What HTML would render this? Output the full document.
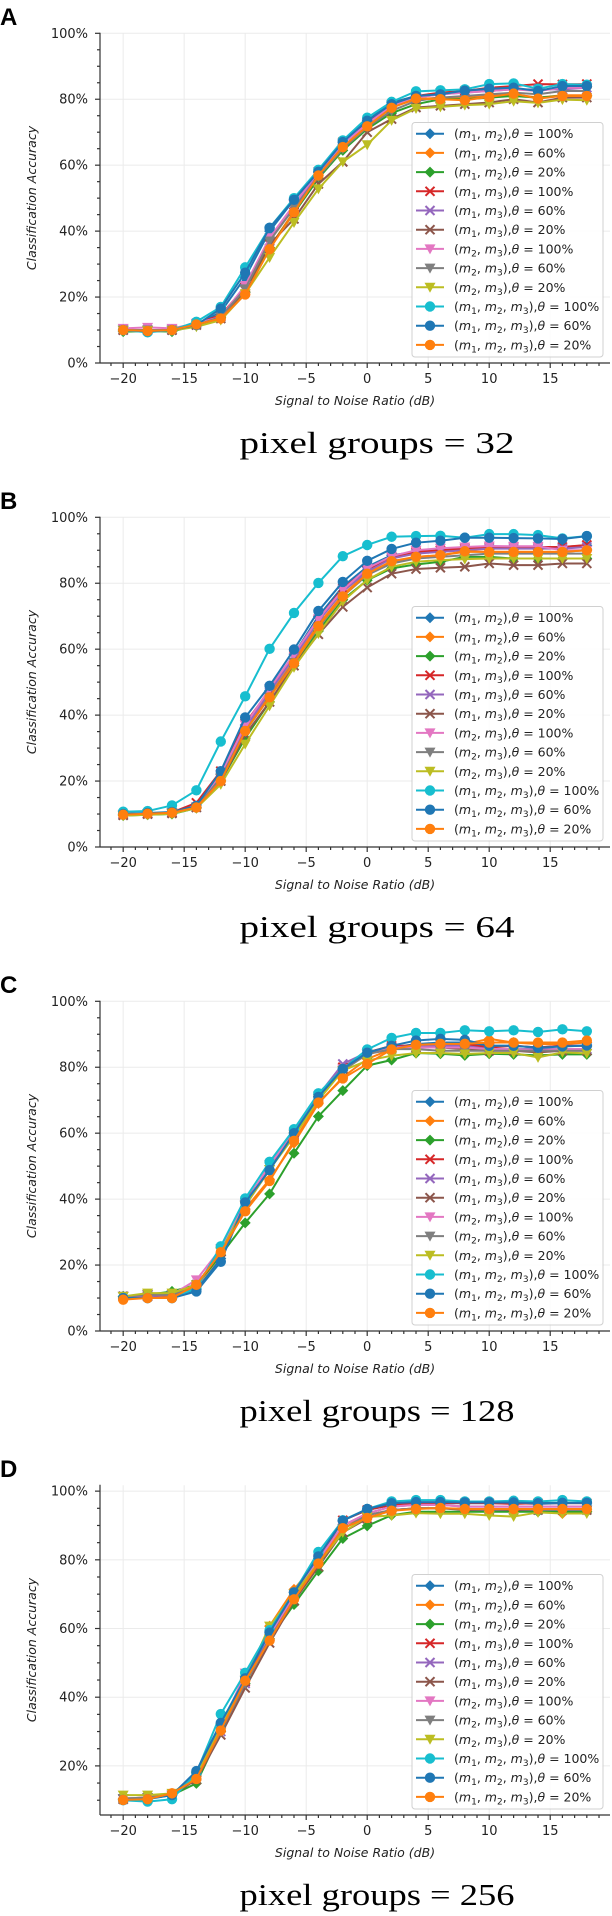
<!DOCTYPE html>
<html><head><meta charset="utf-8">
<style>
html,body{margin:0;padding:0;background:#fff;}
svg{display:block;font-family:"DejaVu Sans","Liberation Sans",sans-serif;}
</style></head>
<body>
<svg id="fig" width="612" height="1916" viewBox="0 0 612 1916" xmlns="http://www.w3.org/2000/svg"></svg>
<script>
const snr = [-20,-18,-16,-14,-12,-10,-8,-6,-4,-2,0,2,4,6,8,10,12,14,16,18];
const xTicks = [-20,-15,-10,-5,0,5,10,15];
const xTickLabels = ["\u221220","\u221215","\u221210","\u22125","0","5","10","15"];
const panelLetters = ["A","B","C","D"];
const panelTitles = ["pixel groups = 32","pixel groups = 64","pixel groups = 128","pixel groups = 256"];
const seriesLabels = [
 ["m1","m2","100%"],["m1","m2","60%"],["m1","m2","20%"],
 ["m1","m3","100%"],["m1","m3","60%"],["m1","m3","20%"],
 ["m2","m3","100%"],["m2","m3","60%"],["m2","m3","20%"],
 ["m1","m2","m3","100%"],["m1","m2","m3","60%"],["m1","m2","m3","20%"]];
// series order: blueD, orangeD, greenD, redX, purpleX, brownX, pinkV, grayV, oliveV, cyanO, blueO, orangeO
const accA = [
 [10,9.8,10,11.5,15.5,26,40,49.5,58,67,73.5,79,81,81.5,82.5,83,83.2,82.5,83.8,83.8],
 [10,9.9,10,11.8,14,21.5,35,46,57,65.5,72,77.6,80,80.5,80.5,81,81.5,80.5,81.2,81.2],
 [9.5,9.7,9.5,11.5,13.8,21.5,35,45.5,56,64.5,71,75.8,78.5,80,80,80.5,81,80.5,81,81],
 [10,10,10,12,14.5,23,37,48,58,67,73,78.5,81,82,82.5,83.5,84,84.6,84.5,84.6],
 [10,10,10,12,14,22.5,37,47.5,57.5,66.5,72.5,78,80.5,81.5,82,82.5,83,83,83,83.5],
 [10,10,10,11.5,13.5,22,36,43.7,54.3,61,70,74,77.5,78,78.5,79,80,79,80.5,80.5],
 [10.5,10.8,10.5,12,14,23.5,38,48,58,66.5,72.5,78,80.5,81.5,82,82.5,83,82.5,83.5,83.5],
 [10,10,10,11.5,14,22.5,37,47,56.5,65,71.5,76.5,79.5,80.5,81,81.5,82,81.5,82.5,82.5],
 [9.8,9.8,9.8,11,13,21,32,42.6,52.8,61,66.2,73.6,77.2,77.7,78.2,78.5,79.4,78.9,79.9,79.7],
 [10,9.3,10,12.5,17,29,41,50,58.6,67.5,74.4,79.2,82.4,82.7,83,84.6,84.8,83.2,84.6,84.4],
 [10,9.6,10,11.5,16.5,27.4,41,49.5,58,67,73.5,78.5,81,81.5,82.6,83.2,83.5,82.5,84,84],
 [10,9.7,10,11.7,13.5,20.8,34.5,45.7,56.9,65.5,71.8,77.4,80.2,80,79.7,80.7,81.7,80.2,81,81]];
const accB = [
 [9.8,10,10.4,12,22,37,47.5,58.5,70,79,85,88.5,89.5,90,90.5,91,91,91,91,91.5],
 [10,10.2,10.4,12,21,36,46,56.5,67.5,76.5,83,86.5,88,88.5,89.5,89.5,89.5,89.5,89.5,90],
 [9.5,9.8,10,11.8,20,33,44,55,65.5,75,80.9,84.5,85.7,86.5,88,88,87.5,87.5,87.5,87.5],
 [10,10.2,10.5,13.4,23,37.5,47.5,58,69,78.5,84,88,89.5,90,90.5,91,91,91,91,91.6],
 [9.8,10,10.3,12,21.5,36,47,57.5,68.5,77.5,83.5,87.5,89,89.5,90,90.5,90.5,90.5,90.5,91],
 [9.6,10,10.2,12,20,34,44,55,64.5,72.8,78.7,82.9,84.3,84.7,85,86,85.5,85.5,86,86],
 [9.8,10.1,10.4,12.2,22,37,48,58.5,69.2,78,84.5,88.2,90,90.6,91,91.3,91.2,91.2,90,90],
 [9.6,10,10.3,12,21,35,45.5,56,66.5,76,82.5,86,87.5,88,88.5,89,89,89,89,89],
 [9.5,9.8,10.1,11.8,19,31.2,42.8,54.5,64.7,74.5,81,85,86.5,87,87.3,87.5,87.5,87.5,87.5,87.5],
 [10.7,10.9,12.6,17.2,32,45.7,60.1,71,80.1,88.2,91.6,94.1,94.3,94.4,93.8,94.9,94.9,94.6,93.6,94.3],
 [10,10.3,10.6,12.5,23,39.3,48.9,59.9,71.6,80.4,86.8,90.4,92.3,92.9,93.8,93.8,93.7,93.6,93.4,94.3],
 [9.8,10.1,10.4,12,20,35.2,45.4,55.7,67,76,82.9,86.7,88,88.5,89.7,89.5,89.5,89.5,89.5,90]];
const accC = [
 [10.5,10.5,10.5,12.5,22,39.5,49,60,71,79,84,86,87,87.5,87.5,86.5,86.5,86,86.5,86.5],
 [10,10.5,10.5,13.5,23,37,46,57,69,77,82.5,85.5,86.5,87,87,88.6,87.5,87,87,87.5],
 [10.5,11,12,14,23,32.8,41.6,53.9,65.1,72.9,80.5,82.2,84.3,84.1,83.6,84.1,83.9,83.6,83.9,83.9],
 [10.5,10.5,11,14,24,39,50,60,71,80,84.5,86.5,86.5,87,87,86,86.5,86,86.5,86.5],
 [10.5,10.5,11,14,24,39,50,60.5,71.5,81,84.5,86,86.5,86.5,86.5,85.5,85.5,85.5,85.5,85.5],
 [10.5,11,11,14,24,38,49,59.5,70.5,79.5,84,85.5,86,86,85.5,85,85,84.5,85,85],
 [10.5,11,11,15.5,25,38.4,50.5,60,71,79.5,84,86,86,86,86,85.5,85.5,85,85.5,85.5],
 [10.5,11,11,14,24,38,49,59.5,70.5,79,84,85.5,85.5,85,85,85,85,85,85,85],
 [10.5,11.5,11.5,14,24,38,49,59,70,79,82,83.5,84.3,84.3,84,84.3,84.3,83,84.5,84.2],
 [10,10,10,13,25.7,40.2,51.3,61.2,72.1,79.5,85.4,88.9,90.4,90.4,91.2,90.9,91.2,90.7,91.5,90.9],
 [10,10,10,12,21,39,48.8,60,71,79.5,84.4,86.5,88.1,88.6,88.3,86.5,86.5,85.9,86.3,86.6],
 [9.5,10,10,14,23.9,36.3,45.5,57.7,69.3,76.6,81,85.4,86.8,87.1,87.1,87.5,87.5,87.5,87.5,88.1]];
const accD = [
 [10.1,10.5,11.5,18,32,46,59,70.5,80.5,91.5,94.5,96,96.5,96.5,96.5,96.5,96.5,96.3,96.5,96.5],
 [10.5,10.8,12,17,31,45,60.7,71.4,80,90,93,94.5,95,95,94.8,94.5,94.8,94.5,93.5,94],
 [10.2,10.5,11.5,14.9,30,44,57,67,76.8,86.2,89.9,93,94,94,94,94,94,94,94,94],
 [10.3,10.6,11.5,17,31,44.5,57.5,69.5,80.5,91.5,94.5,96,96.5,96.5,96.5,96.5,96.3,96.5,96.5,96.5],
 [10.3,10.6,11.5,17,30,44,57.5,69.5,80,90,93.5,95.5,96,96,95.5,95.5,95.5,95.5,95.5,95.5],
 [10.3,10.6,11.5,16,29,42.7,55.8,68,78,88,92,94.5,95,95,94.5,94.5,94.5,94.5,94.5,94.5],
 [10.5,10.8,11.5,17,31,47,58,69.5,80,90,93.5,95.5,96,96,95.5,95.5,95.5,95.5,95.5,95.5],
 [10.5,10.8,11.5,16.5,30,44,57,68.5,79,89,93,94.5,95,95,94.8,94.5,94.8,94.5,94.5,94.5],
 [11.5,11.5,12,17,31,45,60.7,70,79,88,92.5,92.9,93.6,93.4,93.4,92.9,92.6,93.8,93.5,93.5],
 [10,9.6,10.3,18,35.1,47.1,59.5,70.5,82.3,91.5,94.8,97,97.4,97.4,97,97,97.2,97,97.4,97],
 [10.1,10.3,11.5,18.5,32.5,45.5,58.8,70.5,81,91.4,94.8,96.5,96.8,96.8,96.7,96.7,96.7,96.5,96.6,96.6],
 [10.1,10.3,12,16.2,30.3,44.8,56.5,68.5,78.9,89.2,92.2,94.3,94.8,95.1,94.8,94.8,94.8,94.8,94.8,94.8]];
const panelData = [accA, accB, accC, accD];
const yLimits = [[0,100],[0,100],[0,100],[5.7,101.7]];
const yTicksMain = [0,20,40,60,80,100];
const yTicksD = [20,40,60,80,100];

const colors = ["#1f77b4","#ff7f0e","#2ca02c","#d62728","#9467bd","#8c564b","#e377c2","#7f7f7f","#bcbd22","#17becf","#1f77b4","#ff7f0e"];
const markers = ["D","D","D","x","x","x","v","v","v","o","o","o"];

const NS = "http://www.w3.org/2000/svg";
const svg = document.getElementById("fig");
function mk(tag, attrs, parent){
  const e = document.createElementNS(NS, tag);
  for (const k in attrs) e.setAttribute(k, attrs[k]);
  (parent||svg).appendChild(e);
  return e;
}
const PX0 = 100, PX1 = 610, PY0 = 33.3, PY1 = 363, OFF = 484;
const XMIN = -21.9, XMAX = 19.9;
function xs(v){ return PX0 + (v - XMIN) / (XMAX - XMIN) * (PX1 - PX0); }

function drawMarker(g, type, cx, cy, color){
  let m;
  if (type === "D") {
    m = mk("polygon", {points:`${cx},${cy-5.5} ${cx+5.5},${cy} ${cx},${cy+5.5} ${cx-5.5},${cy}`, fill:color}, g);
  } else if (type === "x") {
    m = mk("path", {d:`M${cx-4.5},${cy-4.5}L${cx+4.5},${cy+4.5}M${cx-4.5},${cy+4.5}L${cx+4.5},${cy-4.5}`, stroke:color, "stroke-width":2, fill:"none"}, g);
  } else if (type === "v") {
    m = mk("polygon", {points:`${cx-5.5},${cy-4.5} ${cx+5.5},${cy-4.5} ${cx},${cy+5.5}`, fill:color}, g);
  } else {
    m = mk("circle", {cx:cx, cy:cy, r:5.2, fill:color}, g);
  }
  
  
}

function legendText(parent, x, y, lab){
  const t = mk("text", {x:x, y:y, "font-size":12.5, fill:"#222"}, parent);
  const add = (s, attrs) => { const ts = mk("tspan", attrs||{}, t); ts.textContent = s; return ts; };
  add("(");
  const ms = lab.slice(0, lab.length-1);
  ms.forEach((m, i) => {
    add("m", {"font-style":"italic"});
    add(m[1], {"font-size":9, dy:3});
    add(i < ms.length-1 ? ", " : ")", {dy:-3});
  });
  add(",");
  add("\u03b8", {"font-style":"italic"});
  add(" = " + lab[lab.length-1]);
  return t;
}

for (let p = 0; p < 4; p++) {
  const oy = p * OFF;
  const [ymin, ymax] = yLimits[p];
  const ys = v => oy + PY1 - (v - ymin) / (ymax - ymin) * (PY1 - PY0);
  const g = mk("g", {});
  
  

  const letter = mk("text", {x:0, y:oy+25, "font-size":24, "font-weight":"bold", "font-family":"Liberation Sans, sans-serif", fill:"#000"}, g);
  letter.textContent = panelLetters[p];
  
  

  // grid
  const grid = mk("g", {stroke:"#ebebeb", "stroke-width":1}, g);
  
  
  const yt = p === 3 ? yTicksD : yTicksMain;
  yt.forEach(v => mk("line", {x1:PX0, x2:PX1, y1:ys(v), y2:ys(v)}, grid));
  xTicks.forEach(v => mk("line", {x1:xs(v), x2:xs(v), y1:oy+PY0, y2:oy+PY1}, grid));

  // series
  const data = panelData[p];
  data.forEach((vals, si) => {
    const sg = mk("g", {}, g);
    
    
    const pts = vals.map((v, i) => xs(snr[i]).toFixed(2) + "," + ys(v).toFixed(2)).join(" ");
    const line = mk("polyline", {points:pts, fill:"none", stroke:colors[si], "stroke-width":2, "stroke-linejoin":"round"}, sg);
    
    
    vals.forEach((v, i) => drawMarker(sg, markers[si], xs(snr[i]), ys(v), colors[si]));
  });

  // axes
  const ax = mk("g", {stroke:"#333", "stroke-width":1.2}, g);
  
  
  mk("line", {x1:PX0, x2:PX0, y1:oy+PY0-0.5, y2:oy+PY1}, ax);
  mk("line", {x1:PX0, x2:PX1, y1:oy+PY1, y2:oy+PY1}, ax);
  for (let v = -21; v <= 19; v++) {
    const major = v % 5 === 0;
    mk("line", {x1:xs(v), x2:xs(v), y1:oy+PY1, y2:oy+PY1+(major?5:3)}, ax);
  }
  for (let v = Math.ceil(ymin/5)*5; v <= ymax; v += 5) {
    const major = v % 20 === 0;
    mk("line", {x1:PX0, x2:PX0-(major?5:3), y1:ys(v), y2:ys(v)}, ax);
  }
  yt.forEach(v => {
    const t = mk("text", {x:88, y:ys(v)+4.5, "font-size":13, "text-anchor":"end", fill:"#222"}, g);
    t.textContent = v + "%";
    
    
  });
  xTicks.forEach((v, i) => {
    const t = mk("text", {x:xs(v), y:oy+PY1+20, "font-size":13, "text-anchor":"middle", fill:"#222"}, g);
    t.textContent = xTickLabels[i];
    
    
  });
  const yl = mk("text", {x:0, y:0, "font-size":12.5, "font-style":"italic", "text-anchor":"middle", fill:"#222", transform:`translate(36,${oy+198}) rotate(-90)`}, g);
  yl.textContent = "Classification Accuracy";
  
  
  const xl = mk("text", {x:355, y:oy+405, "font-size":12.5, "font-style":"italic", "text-anchor":"middle", fill:"#222"}, g);
  xl.textContent = "Signal to Noise Ratio (dB)";
  
  

  const ti = mk("text", {x:377, y:oy+453, "font-size":31, "text-anchor":"middle", "font-family":"Liberation Serif, serif", fill:"#000", textLength:275, lengthAdjust:"spacingAndGlyphs"}, g);
  ti.textContent = panelTitles[p];
  
  

  // legend
  const lg = mk("g", {}, g);
  
  
  mk("rect", {x:412, y:oy+122.5, width:191, height:234.5, rx:3, fill:"#fff", "fill-opacity":0.85, stroke:"#d0d0d0", "stroke-width":1}, lg);
  seriesLabels.forEach((lab, si) => {
    const cy = oy + 133.7 + si * 19.2;
    const eg = mk("g", {}, lg);
    
    
    mk("line", {x1:416, x2:444, y1:cy, y2:cy, stroke:colors[si], "stroke-width":2}, eg);
    drawMarker(eg, markers[si], 430, cy, colors[si]);
    legendText(eg, 454, cy + 4.5, lab);
  });
}
</script>
</body></html>
